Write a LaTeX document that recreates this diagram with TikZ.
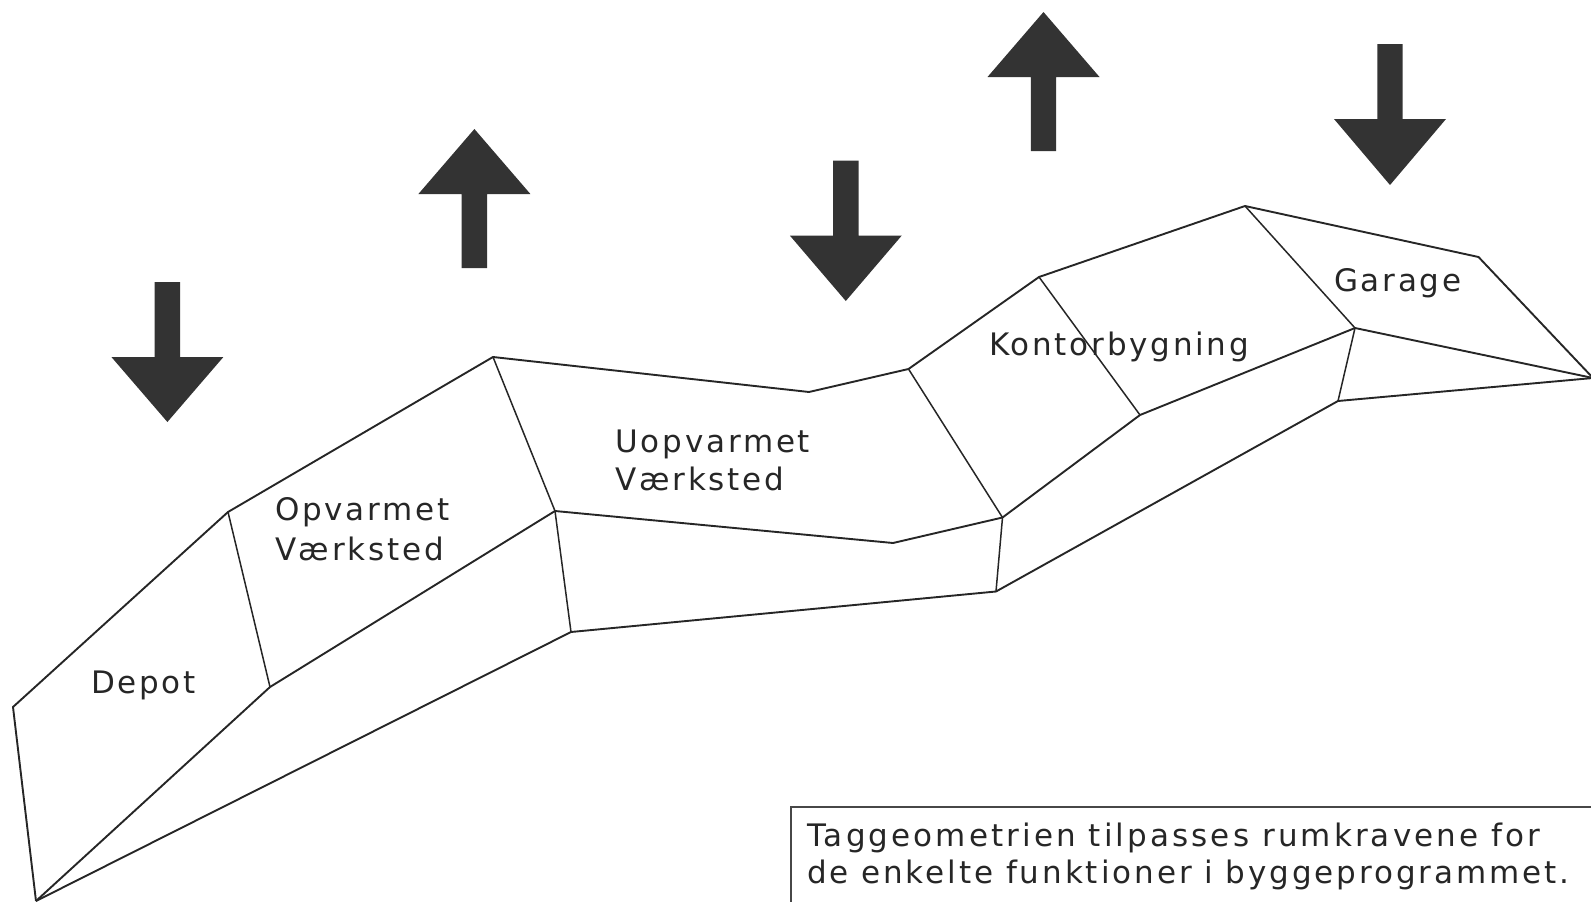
\documentclass[tikz,border=0pt]{standalone}
\usepackage{fontspec}
\setmainfont[LetterSpace=9]{DejaVu Sans}
\newfontfamily\boxfonta[LetterSpace=10]{DejaVu Sans}
\newfontfamily\boxfontb[LetterSpace=9.4]{DejaVu Sans}
\definecolor{ink}{HTML}{262626}
\definecolor{arrowfill}{HTML}{333333}
\tikzset{
  roofline/.style={draw=ink,line width=1.9pt,line join=miter},
  divline/.style={draw=ink,line width=1.5pt},
  lab/.style={anchor=base west,inner sep=0pt,outer sep=0pt,text=ink,font=\fontsize{31}{37}\selectfont},
  blockarrow/.style={fill=arrowfill,draw=none},
  framebox/.style={draw=ink!85,line width=2.2pt}
}
\newcommand{\downarrowshape}[4]{% cx, top, shoulder, tip
  \fill[blockarrow] (#1-12.7,#2) -- (#1+12.7,#2) -- (#1+12.7,#3) -- (#1+56,#3) -- (#1,#4) -- (#1-56,#3) -- (#1-12.7,#3) -- cycle;}
\newcommand{\uparrowshape}[4]{% cx, tip, shoulder, bottom
  \fill[blockarrow] (#1,#2) -- (#1+56,#3) -- (#1+12.7,#3) -- (#1+12.7,#4) -- (#1-12.7,#4) -- (#1-12.7,#3) -- (#1-56,#3) -- cycle;}
\begin{document}
\begin{tikzpicture}[x=1pt,y=-1pt]
\useasboundingbox (0,0) rectangle (1591,902);
\clip (0,0) rectangle (1591,902);
% top edge
\coordinate (a) at (13,707);
\coordinate (b) at (228,512);
\coordinate (c) at (493,357);
\coordinate (d) at (809,392);
\coordinate (e) at (908.5,369);
\coordinate (f) at (1039,277);
\coordinate (g) at (1245,206);
\coordinate (h) at (1478.5,257);
\coordinate (i) at (1593,378);
% mid edge
\coordinate (z) at (36,901);
\coordinate (bm) at (270,687);
\coordinate (cm) at (555,511);
\coordinate (n) at (893,543);
\coordinate (m) at (1002.5,517.5);
\coordinate (l) at (1140,415);
\coordinate (j) at (1355,328);
% low edge
\coordinate (cl) at (571,632);
\coordinate (o) at (996,591.5);
\coordinate (k) at (1338,401);

\draw[roofline] (z) -- (a) -- (b) -- (c) -- (d) -- (e) -- (f) -- (g) -- (h) -- (i);
\draw[roofline] (z) -- (bm) -- (cm) -- (n) -- (m) -- (l) -- (j) -- (i);
\draw[roofline] (z) -- (cl) -- (o) -- (k) -- (i);
\draw[divline] (b) -- (bm);
\draw[divline] (c) -- (cm) -- (cl);
\draw[divline] (e) -- (m) -- (o);
\draw[divline] (f) -- (l);
\draw[divline] (g) -- (j) -- (k);

\downarrowshape{167.4}{282}{357}{422}
\uparrowshape{474.4}{129}{194}{268}
\downarrowshape{845.8}{160.5}{235.5}{301}
\uparrowshape{1043.5}{12}{77}{151}
\downarrowshape{1390}{44}{119}{185}

\node[lab] (depot) at (91,693) {Depot};
\node[lab] (opv) at (275,520.5) {Opvarmet};
\node[lab] (opv2) at (275,560) {Værksted};
\node[lab] (uop) at (615.5,452.5) {Uopvarmet};
\node[lab] (uop2) at (615.5,490) {Værksted};
\node[lab] (kon) at (989,355) {Kontorbygning};
\node[lab] (gar) at (1334,291) {Garage};

\draw[framebox] (791,910) -- (791,807) -- (1600,807);
\node[lab] (t1) at (807,846) {\boxfonta Taggeometrien tilpasses rumkravene for};
\node[lab] (t2) at (807,883.5) {\boxfontb de enkelte funktioner i byggeprogrammet.};
\end{tikzpicture}
\end{document}
